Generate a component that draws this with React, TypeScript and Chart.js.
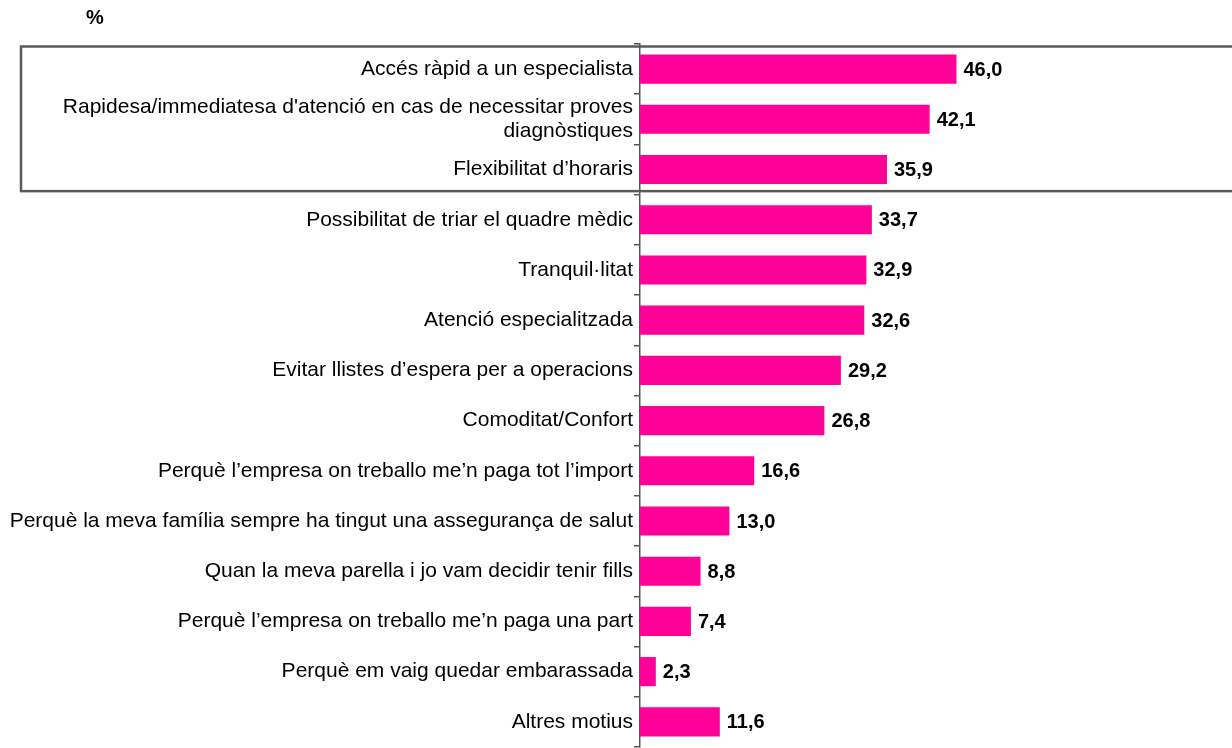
import React, { useEffect, useRef } from "react";
import { Chart, registerables } from "chart.js";

Chart.register(...registerables);

const categories: (string | string[])[] = [
  "Accés ràpid a un especialista",
  ["Rapidesa/immediatesa d'atenció en cas de necessitar proves", "diagnòstiques"],
  "Flexibilitat d’horaris",
  "Possibilitat de triar el quadre mèdic",
  "Tranquil·litat",
  "Atenció especialitzada",
  "Evitar llistes d’espera per a operacions",
  "Comoditat/Confort",
  "Perquè l’empresa on treballo me’n paga tot l’import",
  "Perquè la meva família sempre ha tingut una assegurança de salut",
  "Quan la meva parella i jo vam decidir tenir fills",
  "Perquè l’empresa on treballo me’n paga una part",
  "Perquè em vaig quedar embarassada",
  "Altres motius",
];

const values: number[] = [46.0, 42.1, 35.9, 33.7, 32.9, 32.6, 29.2, 26.8, 16.6, 13.0, 8.8, 7.4, 2.3, 11.6];

const unitLabel = "%";
const highlightedCount = 3;

const FONT = "'Liberation Sans', Arial, Helvetica, sans-serif";

const decorPlugin = {
  id: "decor",
  afterDatasetsDraw(chart: any) {
    const ctx = chart.ctx;
    const meta = chart.getDatasetMeta(0);
    ctx.save();
    ctx.font = `bold 20px ${FONT}`;
    ctx.fillStyle = "#000";
    ctx.textAlign = "left";
    ctx.textBaseline = "middle";
    meta.data.forEach((bar: any, i: number) => {
      const txt = values[i].toFixed(1).replace(".", ",");
      ctx.fillText(txt, bar.x + 7, bar.y + 1);
    });
    ctx.restore();
  },
  afterDraw(chart: any) {
    const ctx = chart.ctx;
    const y = chart.scales.y;
    const band = y.getPixelForValue(1) - y.getPixelForValue(0);
    const top0 = y.getPixelForValue(0) - band / 2;
    ctx.save();
    ctx.font = `bold 20px ${FONT}`;
    ctx.fillStyle = "#000";
    ctx.textAlign = "center";
    ctx.textBaseline = "middle";
    ctx.fillText(unitLabel, 95, 18);
    ctx.strokeStyle = "#5a5a5a";
    ctx.lineWidth = 2.5;
    const t = top0 + 2.5;
    const b = top0 + highlightedCount * band - 3.5;
    ctx.strokeRect(21, t, chart.width + 20, b - t);
    ctx.restore();
  },
};

export default function App() {
  const ref = useRef<HTMLCanvasElement | null>(null);
  useEffect(() => {
    if (!ref.current) return;
    const chart = new Chart(ref.current, {
      type: "bar",
      data: {
        labels: categories,
        datasets: [
          {
            data: values,
            backgroundColor: "#FF0099",
            borderWidth: 0,
            barPercentage: 0.58,
            categoryPercentage: 1,
          },
        ],
      },
      options: {
        indexAxis: "y",
        animation: false,
        responsive: true,
        maintainAspectRatio: false,
        layout: { padding: { top: 44, bottom: 8, left: 0, right: 248 } },
        plugins: { legend: { display: false }, tooltip: { enabled: false }, title: { display: false } },
        scales: {
          x: { display: false, min: 0, max: 50 },
          y: {
            afterFit(scale: any) {
              scale.width = 640;
            },
            grid: {
              display: true,
              drawOnChartArea: false,
              drawTicks: true,
              tickLength: 6,
              offset: true,
              color: "#555",
              lineWidth: 1.5,
            },
            border: { display: true, color: "#555", width: 1.5 },
            ticks: {
              color: "#000",
              padding: 1,
              font: { family: FONT, size: 21, lineHeight: 1.15 },
              autoSkip: false,
            },
          },
        },
      },
      plugins: [decorPlugin],
    } as any);
    return () => chart.destroy();
  }, []);
  return (
    <div style={{ position: "fixed", top: 0, left: 0, width: 1232, height: 748, overflow: "hidden", background: "#fff" }}>
      <div style={{ position: "relative", width: 1232, height: 760 }}>
        <canvas ref={ref} />
      </div>
    </div>
  );
}
